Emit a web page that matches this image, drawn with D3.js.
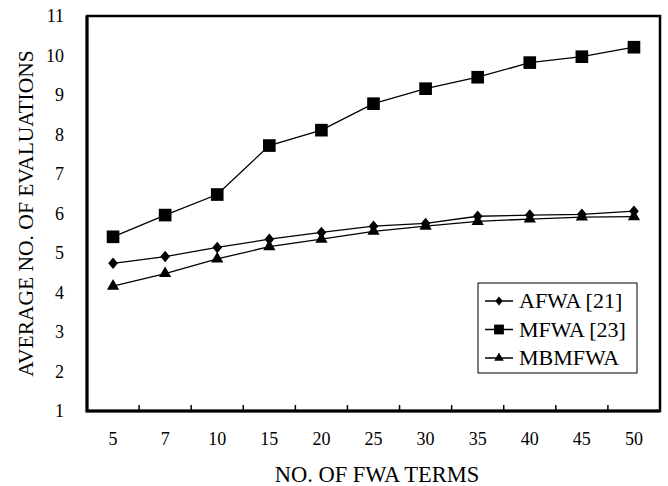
<!DOCTYPE html>
<html>
<head>
<meta charset="utf-8">
<script src="https://cdn.jsdelivr.net/npm/d3@7"></script>
<style>
body { margin: 0; background: #fff; }
</style>
</head>
<body>
<script>
var terms = ['5', '7', '10', '15', '20', '25', '30', '35', '40', '45', '50'];
var afwa = [4.74, 4.91, 5.14, 5.35, 5.52, 5.68, 5.75, 5.93, 5.96, 5.98, 6.06];
var mfwa = [5.41, 5.96, 6.48, 7.72, 8.11, 8.78, 9.16, 9.45, 9.82, 9.97, 10.21];
var mbmfwa = [4.16, 4.48, 4.85, 5.16, 5.35, 5.55, 5.68, 5.8, 5.86, 5.91, 5.92];
var yTicks = [1, 2, 3, 4, 5, 6, 7, 8, 9, 10, 11];

var FONT = '"Liberation Serif"';

// rhombus a little taller than wide, like the Excel marker
var rhombus = {
	draw: function(ctx, size) {
		var h = Math.sqrt(size) * 0.62, w = h * 0.85;
		ctx.moveTo(0, -h); ctx.lineTo(w, 0); ctx.lineTo(0, h); ctx.lineTo(-w, 0); ctx.closePath();
	}
};

var series = [
	{ name: 'AFWA [21]', values: afwa, symbol: rhombus, size: 85 },
	{ name: 'MFWA [23]', values: mfwa, symbol: d3.symbolSquare, size: 160 },
	{ name: 'MBMFWA', values: mbmfwa, symbol: d3.symbolTriangle, size: 65 }
];

var width = 668, height = 486;
var margin = { left: 87, right: 8, top: 16, bottom: 75 };

var svg = d3.select('body').append('svg')
	.attr('width', width).attr('height', height);

var x = d3.scaleBand().domain(terms)
	.range([margin.left, width - margin.right]);
var y = d3.scaleLinear().domain([1, 11])
	.range([height - margin.bottom, margin.top]);

// frame
svg.append('rect')
	.attr('x', margin.left).attr('y', margin.top)
	.attr('width', width - margin.left - margin.right)
	.attr('height', height - margin.top - margin.bottom)
	.attr('fill', 'none').attr('stroke', '#000').attr('stroke-width', 2.5);
svg.append('path')
	.attr('d', 'M' + margin.left + ',' + margin.top + 'V' + y(1) + 'H' + (width - margin.right))
	.attr('fill', 'none').attr('stroke', '#000').attr('stroke-width', 3);

// x ticks between categories, pointing inward
svg.selectAll('line.xtick')
	.data(terms.slice(1))
	.enter().append('line')
	.attr('x1', d => x(d)).attr('x2', d => x(d))
	.attr('y1', y(1)).attr('y2', y(1) - 6)
	.attr('stroke', '#000').attr('stroke-width', 1.5);

svg.selectAll('text.xlab')
	.data(terms)
	.enter().append('text')
	.attr('x', d => x(d) + x.bandwidth() / 2)
	.attr('y', y(1) + 34)
	.attr('text-anchor', 'middle')
	.attr('font-size', 18)
	.style('font-family', FONT)
	.text(d => d);

svg.selectAll('text.ylab')
	.data(yTicks)
	.enter().append('text')
	.attr('x', 64)
	.attr('y', d => y(d) + 6)
	.attr('text-anchor', 'end')
	.attr('font-size', 18)
	.style('font-family', FONT)
	.text(d => d);

svg.append('text')
	.attr('x', 377)
	.attr('y', 482)
	.attr('text-anchor', 'middle')
	.attr('font-size', 22.5)
	.style('font-family', FONT)
	.text('NO. OF FWA TERMS');

svg.append('text')
	.attr('transform', 'translate(33,' + ((margin.top + height - margin.bottom) / 2) + ') rotate(-90)')
	.attr('text-anchor', 'middle')
	.attr('font-size', 21.5)
	.style('font-family', FONT)
	.text('AVERAGE NO. OF EVALUATIONS');

var line = d3.line()
	.x((d, i) => x(terms[i]) + x.bandwidth() / 2)
	.y(d => y(d));

series.forEach(function(s) {
	svg.append('path')
		.attr('d', line(s.values))
		.attr('fill', 'none').attr('stroke', '#000').attr('stroke-width', 1.3);
	svg.selectAll(null)
		.data(s.values)
		.enter().append('path')
		.attr('d', d3.symbol().type(s.symbol).size(s.size))
		.attr('transform', (d, i) => 'translate(' + (x(terms[i]) + x.bandwidth() / 2) + ',' + y(d) + ')')
		.attr('fill', '#000');
});

// legend
var lg = svg.append('g').attr('transform', 'translate(478,283)');
lg.append('rect')
	.attr('width', 159).attr('height', 90)
	.attr('fill', '#fff').attr('stroke', '#000').attr('stroke-width', 1);
series.forEach(function(s, i) {
	var cy = 18 + i * 28.5;
	lg.append('line')
		.attr('x1', 7).attr('x2', 35).attr('y1', cy).attr('y2', cy)
		.attr('stroke', '#000').attr('stroke-width', 1.5);
	lg.append('path')
		.attr('d', d3.symbol().type(s.symbol).size(s.size * 0.6))
		.attr('transform', 'translate(21,' + cy + ')');
	lg.append('text')
		.attr('x', 41).attr('y', cy + 7)
		.attr('font-size', 22)
		.style('font-family', FONT)
		.text(s.name);
});
</script>
</body>
</html>
